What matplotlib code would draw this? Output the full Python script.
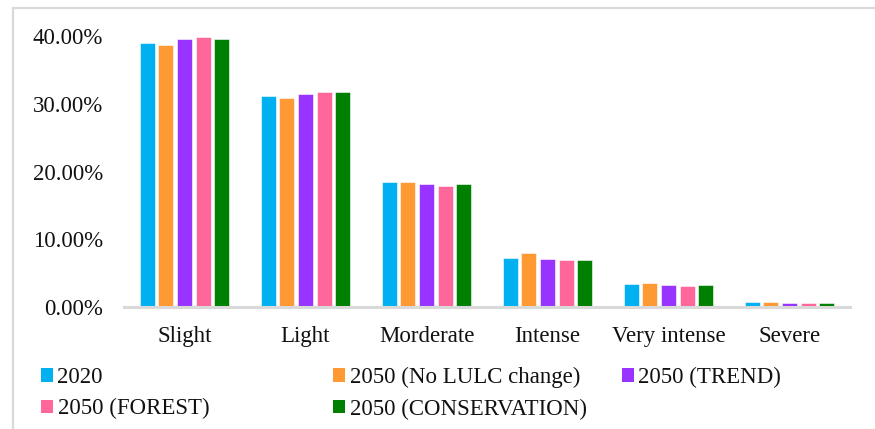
import matplotlib
matplotlib.use("Agg")
import matplotlib.pyplot as plt
import numpy as np
from matplotlib.patches import Patch
from matplotlib.lines import Line2D
from matplotlib.ticker import FuncFormatter

plt.rcParams['font.family'] = ['Liberation Serif', 'DejaVu Serif']

categories = ["Slight", "Light", "Morderate", "Intense", "Very intense", "Severe"]
series_names = ["2020", "2050 (No LULC change)", "2050 (TREND)",
                "2050 (FOREST)", "2050 (CONSERVATION)"]
s2020 = [0.389, 0.312, 0.185, 0.072, 0.034, 0.0068]
s2050_no_change = [0.386, 0.308, 0.185, 0.079, 0.036, 0.0068]
s2050_trend = [0.395, 0.315, 0.181, 0.071, 0.033, 0.0062]
s2050_forest = [0.398, 0.318, 0.179, 0.069, 0.031, 0.0062]
s2050_conservation = [0.395, 0.317, 0.182, 0.070, 0.032, 0.0058]
colors = ["#00B0F0", "#FF9933", "#9933FF", "#FF6699", "#008000"]

series = [s2020, s2050_no_change, s2050_trend, s2050_forest, s2050_conservation]

fig = plt.figure(figsize=(8.75, 4.29), dpi=100)
W, H = 875, 429
ax = fig.add_axes([124 / W, 1 - 307 / H, (850 - 124) / W, (307 - 36) / H])

x = np.arange(len(categories))
step = 0.1545
width = 0.124
for i, (vals, col) in enumerate(zip(series, colors)):
    ax.bar(x + (i - 2) * step, vals, width=width, color=col,
           edgecolor='white', linewidth=0.4, label=series_names[i], zorder=2)

ax.set_xlim(-0.5, len(categories) - 0.5)
ax.set_ylim(0, 0.40)
ax.set_yticks([0, 0.1, 0.2, 0.3, 0.4])
ax.yaxis.set_major_formatter(FuncFormatter(lambda v, p: f"{v * 100:.2f}%"))
ax.set_xticks(x)
ax.set_xticklabels(categories)
ax.tick_params(axis='both', length=0, labelsize=16.5, colors='#111111')
ax.tick_params(axis='y', pad=15)
ax.tick_params(axis='x', pad=14)
for side in ['top', 'right', 'left']:
    ax.spines[side].set_visible(False)
ax.spines['bottom'].set_color('#D9D9D9')
ax.spines['bottom'].set_linewidth(2.2)
ax.spines['bottom'].set_zorder(3)

# chart-area frame (top and left edges)
fig.add_artist(Line2D([13 / W, 13 / W], [0, 1 - 8 / H], transform=fig.transFigure,
                      color='#D9D9D9', lw=1.6))
fig.add_artist(Line2D([13 / W, 1], [1 - 8 / H, 1 - 8 / H], transform=fig.transFigure,
                      color='#D9D9D9', lw=1.6))

# legend laid out row-wise in three evenly spaced columns
handles = [Patch(facecolor=c, edgecolor='none', label=n)
           for c, n in zip(colors, series_names)]
col_x = [41, 333, 622]
for c in range(3):
    hs = handles[c::3]
    fig.legend(handles=hs, loc='upper left',
               bbox_to_anchor=(col_x[c] / W, 1 - 367 / H),
               frameon=False, fontsize=16.5, borderpad=0, borderaxespad=0,
               handlelength=0.52, handleheight=0.52, handletextpad=0.2,
               labelspacing=0.45, labelcolor='#111111')

fig.savefig("out.png", dpi=100)
